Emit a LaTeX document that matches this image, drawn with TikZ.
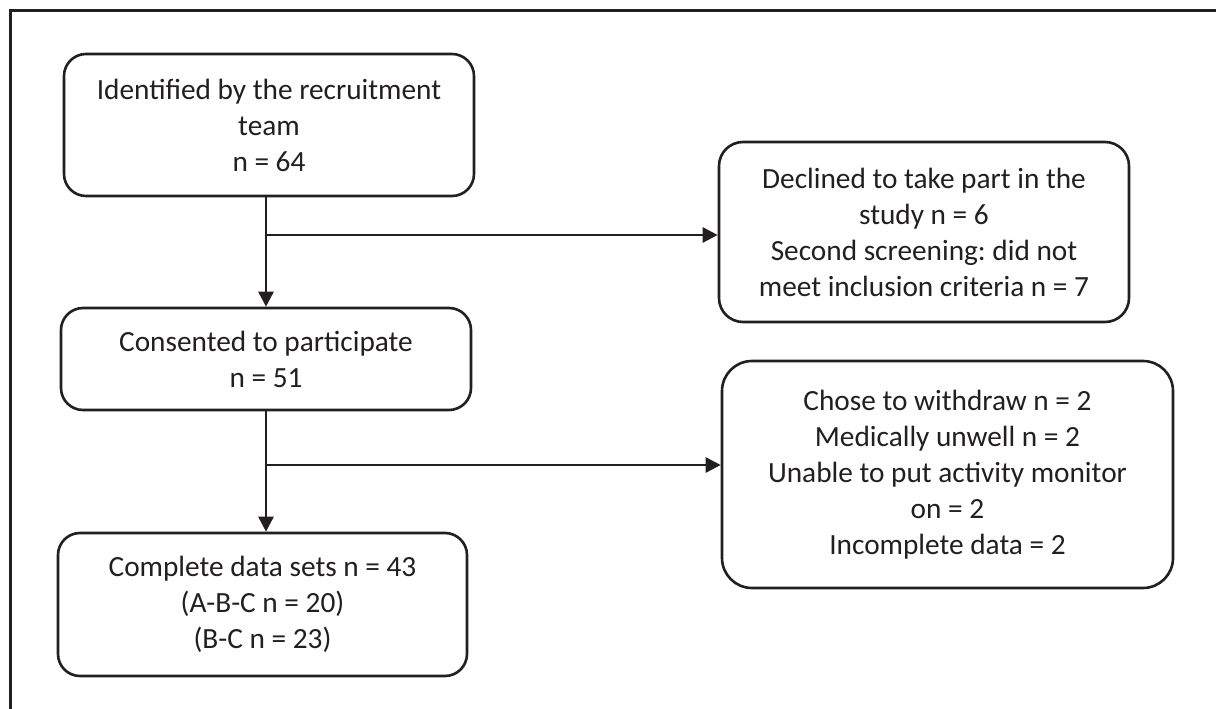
\documentclass[tikz,border=0pt]{standalone}
\usepackage{fontspec}
\setmainfont{Carlito}
\usetikzlibrary{arrows.meta}
\definecolor{ink}{HTML}{231F20}
\frenchspacing
\begin{document}
\begin{tikzpicture}[x=1pt,y=-1pt,
  box/.style={draw=ink, line width=2.6pt, align=center, text=ink,
    font=\fontsize{29.3}{36}\selectfont, inner sep=0pt, anchor=center},
  arr/.style={draw=ink, line width=2.6pt, -{Triangle[length=15pt,width=15pt]}}]
\useasboundingbox (0,0) rectangle (1216,709);
\fill[white] (0,0) rectangle (1216,709);
% outer frame (cropped)
\coordinate (fa) at (10,709);
\coordinate (fb) at (10,11);
\coordinate (fc) at (1216,11);
\draw[draw=ink, line width=3pt] (fa) -- (fb) -- (fc);
% boxes
\node[box, rounded corners=22pt, minimum width=410pt, minimum height=142pt] (b1) at (269,125)
  {Identified by the recruitment\\team\\n = 64};
\node[box, rounded corners=22pt, minimum width=410pt, minimum height=102pt] (b2) at (266,359)
  {Consented to participate\\n = 51};
\node[box, rounded corners=24pt, minimum width=410pt, minimum height=180pt] (b3) at (924,232)
  {Declined to take part in the\\study n = 6\\Second screening: did not\\meet inclusion criteria n = 7};
\node[box, rounded corners=22pt, minimum width=409pt, minimum height=143pt] (b4) at (262.5,604.5)
  {Complete data sets n = 43\\(A-B-C n = 20)\\(B-C n = 23)};
\node[box, rounded corners=30pt, minimum width=451pt, minimum height=227pt] (b5) at (947.5,474.5)
  {Chose to withdraw n = 2\\Medically unwell n = 2\\Unable to put activity monitor\\on = 2\\Incomplete data = 2};
% connectors
\coordinate (j1) at (266,235);
\coordinate (j2) at (266,465);
\draw[arr] (b2.north |- b1.south) -- (b2.north);
\draw[arr] (j1) -- (j1 -| b3.west);
\draw[arr] (b2.south) -- (b2.south |- b4.north);
\draw[arr] (j2) -- (j2 -| b5.west);
\end{tikzpicture}
\end{document}
